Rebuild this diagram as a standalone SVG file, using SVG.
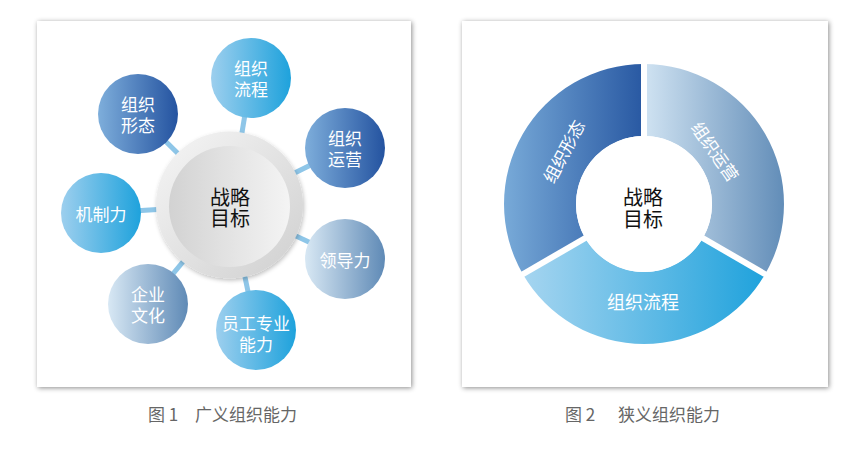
<svg xmlns="http://www.w3.org/2000/svg" width="865" height="450" viewBox="0 0 865 450">
<defs>
<filter id="fshadow" x="-10%" y="-10%" width="120%" height="120%">
<feGaussianBlur in="SourceAlpha" stdDeviation="2.5"/>
<feOffset dx="1" dy="1" result="b"/>
<feFlood flood-color="#000" flood-opacity="0.45"/>
<feComposite in2="b" operator="in"/>
<feMerge><feMergeNode/><feMergeNode in="SourceGraphic"/></feMerge>
</filter>
<filter id="cshadow" x="-20%" y="-20%" width="140%" height="140%">
<feGaussianBlur in="SourceAlpha" stdDeviation="2"/>
<feOffset dx="1" dy="2" result="b"/>
<feFlood flood-color="#000" flood-opacity="0.25"/>
<feComposite in2="b" operator="in"/>
<feMerge><feMergeNode/><feMergeNode in="SourceGraphic"/></feMerge>
</filter>
<linearGradient id="gBright" x1="0" y1="0" x2="1" y2="0">
<stop offset="0" stop-color="#9dcfee"/><stop offset="1" stop-color="#1ea2dc"/>
</linearGradient>
<linearGradient id="gDark" x1="0" y1="0" x2="1" y2="0">
<stop offset="0" stop-color="#7eaedb"/><stop offset="1" stop-color="#2453a0"/>
</linearGradient>
<linearGradient id="gPale" x1="0" y1="0" x2="1" y2="0">
<stop offset="0" stop-color="#d8e8f4"/><stop offset="1" stop-color="#5f8ab6"/>
</linearGradient>
<linearGradient id="gRing" x1="0" y1="0" x2="1" y2="1">
<stop offset="0" stop-color="#f6f6f6"/><stop offset="1" stop-color="#cfcfcf"/>
</linearGradient>
<linearGradient id="gInner" x1="0" y1="0" x2="1" y2="0">
<stop offset="0" stop-color="#d2d2d2"/><stop offset="1" stop-color="#f4f4f4"/>
</linearGradient>
<linearGradient id="sC" x1="0" y1="0" x2="1" y2="0">
<stop offset="0" stop-color="#78aad8"/><stop offset="1" stop-color="#2858a2"/>
</linearGradient>
<linearGradient id="sA" x1="0" y1="0" x2="1" y2="0">
<stop offset="0" stop-color="#d0e3f2"/><stop offset="1" stop-color="#628db8"/>
</linearGradient>
<linearGradient id="sB" x1="0" y1="0" x2="1" y2="0">
<stop offset="0" stop-color="#a6d5f0"/><stop offset="1" stop-color="#1fa2dc"/>
</linearGradient>
</defs>
<style>
.frame{fill:#fff;filter:url(#fshadow)}
.sat{stroke:none}
.st{font-family:"Noto Sans CJK SC","Microsoft YaHei",sans-serif;font-size:17px;fill:#fff;text-anchor:middle;dominant-baseline:central}
.ct{font-family:"Noto Sans CJK SC","Microsoft YaHei",sans-serif;font-size:20px;fill:#111;text-anchor:middle;dominant-baseline:central}
.cap{font-family:"Noto Sans CJK SC","Microsoft YaHei",sans-serif;font-size:17px;fill:#666;dominant-baseline:central}
.conn line{stroke:#8ec6e8;stroke-width:5}
.gap{stroke:#fff;stroke-width:6}
</style>
<rect width="865" height="450" fill="#fff"/>

<!-- Left panel -->
<rect class="frame" x="37" y="21" width="374" height="366"/>
<g id="connectors">
<g class="conn">
<line x1="230" y1="205" x2="251" y2="78"/>
<line x1="230" y1="205" x2="138" y2="114"/>
<line x1="230" y1="205" x2="345" y2="148"/>
<line x1="230" y1="205" x2="101" y2="213"/>
<line x1="230" y1="205" x2="345" y2="259"/>
<line x1="230" y1="205" x2="148" y2="304"/>
<line x1="230" y1="205" x2="256" y2="330"/>
</g>
</g>
<g id="center1">
<circle cx="229.5" cy="205" r="73.5" fill="url(#gRing)" filter="url(#cshadow)"/>
<circle cx="229.5" cy="206.5" r="60.5" fill="url(#gInner)"/>
<text class="ct"><tspan x="230" y="196">战略</tspan><tspan x="230" y="217">目标</tspan></text>
</g>
<g id="n-liucheng">
<circle class="sat" cx="251" cy="78" r="40" fill="url(#gBright)"/>
<text class="st"><tspan x="251" y="67">组织</tspan><tspan x="251" y="88">流程</tspan></text>
</g>
<g id="n-xingtai">
<circle class="sat" cx="138" cy="114" r="40" fill="url(#gDark)"/>
<text class="st"><tspan x="138" y="103">组织</tspan><tspan x="138" y="124">形态</tspan></text>
</g>
<g id="n-yunying">
<circle class="sat" cx="345" cy="148" r="40" fill="url(#gDark)"/>
<text class="st"><tspan x="345" y="137">组织</tspan><tspan x="345" y="158">运营</tspan></text>
</g>
<g id="n-jizhi">
<circle class="sat" cx="101" cy="213" r="40" fill="url(#gBright)"/>
<text class="st" x="101" y="213">机制力</text>
</g>
<g id="n-lingdao">
<circle class="sat" cx="345" cy="259" r="40" fill="url(#gPale)"/>
<text class="st" x="345" y="259">领导力</text>
</g>
<g id="n-wenhua">
<circle class="sat" cx="148" cy="304" r="40" fill="url(#gPale)"/>
<text class="st"><tspan x="148" y="293">企业</tspan><tspan x="148" y="314">文化</tspan></text>
</g>
<g id="n-yuangong">
<circle class="sat" cx="256" cy="330" r="40" fill="url(#gBright)"/>
<text class="st"><tspan x="256" y="322">员工专业</tspan><tspan x="256" y="343">能力</tspan></text>
</g>
<text class="cap" x="148" y="413">图 1</text>
<text class="cap" x="195" y="413">广义组织能力</text>

<!-- Right panel -->
<rect class="frame" x="462" y="21" width="366" height="366"/>
<g id="donut">
<g id="seg-yunying">
<path d="M644,64 A140,140 0 0 1 765.24,274 L702.89,238 A68,68 0 0 0 644,136 Z" fill="url(#sA)"/>
</g>
<g id="seg-liucheng">
<path d="M765.24,274 A140,140 0 0 1 522.76,274 L585.11,238 A68,68 0 0 0 702.89,238 Z" fill="url(#sB)"/>
</g>
<g id="seg-xingtai">
<path d="M522.76,274 A140,140 0 0 1 644,64 L644,136 A68,68 0 0 0 585.11,238 Z" fill="url(#sC)"/>
</g>
<line class="gap" x1="644" y1="204" x2="644" y2="60"/>
<line class="gap" x1="644" y1="204" x2="770" y2="277"/>
<line class="gap" x1="644" y1="204" x2="518" y2="277"/>
<circle cx="644" cy="204" r="68" fill="#fff"/>
<text class="st" transform="translate(716,151) rotate(55)">组织运营</text>
<text class="st" transform="translate(563,151) rotate(-62)">组织形态</text>
<text class="st" x="643" y="301" style="font-size:18px">组织流程</text>
<text class="ct"><tspan x="643" y="196">战略</tspan><tspan x="643" y="218">目标</tspan></text>
</g>
<text class="cap" x="565" y="413">图 2</text>
<text class="cap" x="618" y="413">狭义组织能力</text>
</svg>
